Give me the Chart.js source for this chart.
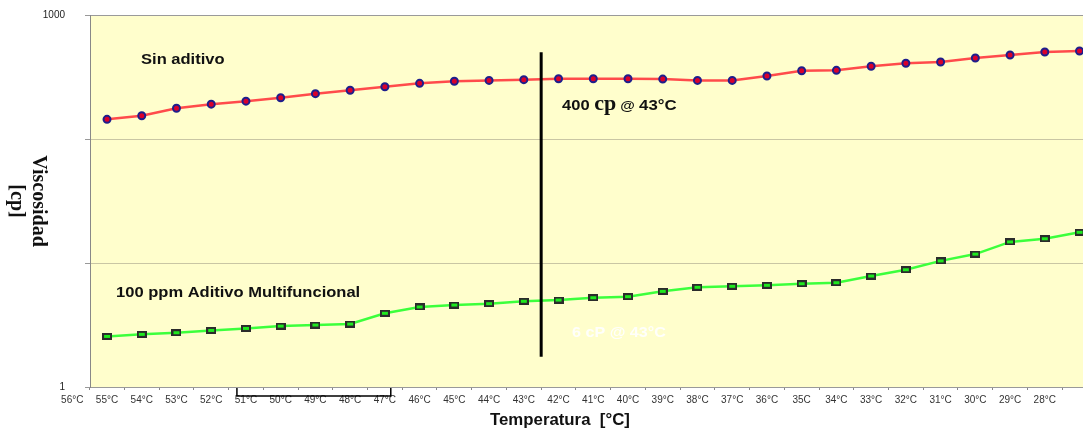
<!DOCTYPE html>
<html>
<head>
<meta charset="utf-8">
<script src="https://cdn.jsdelivr.net/npm/chart.js@4"></script>
<style>
  html, body { margin: 0; padding: 0; background: #fff; }
</style>
</head>
<body>
<canvas id="viscChart" width="1083" height="433"></canvas>
<script>
// Temperature labels as printed under the axis (the sheet shows them shifted one slot left of the points)
const temps = ['56°C','55°C','54°C','53°C','52°C','51°C','50°C','49°C','48°C','47°C',
               '46°C','45°C','44°C','43°C','42°C','41°C','40°C','39°C','38°C','37°C',
               '36°C','35C','34°C','33°C','32°C','31°C','30°C','29°C','28°C'];

// Viscosity [cp], one value per plotted point
const sinAditivo = [144, 154, 177, 191, 202, 215, 232, 247, 264, 281,
                    292, 297, 301, 306, 306, 306, 304, 297, 297, 322,
                    355, 358, 386, 408, 418, 450, 476, 503, 513];
const conAditivo = [2.56, 2.66, 2.74, 2.86, 2.97, 3.10, 3.16, 3.22, 3.93, 4.42,
                    4.58, 4.70, 4.91, 5.03, 5.25, 5.35, 5.91, 6.37, 6.49, 6.61,
                    6.81, 6.93, 7.85, 8.83, 10.4, 11.8, 14.8, 15.7, 17.7];

const yTicks = [1, 10, 100, 1000];

const FAM = 'Arial, "Liberation Sans", sans-serif';
const SERIF = '"Liberation Serif", "Times New Roman", serif';

// little green box marker used by the additive series
const boxMarker = document.createElement('canvas');
boxMarker.width = 10; boxMarker.height = 7;
(function () {
    const g = boxMarker.getContext('2d');
    g.fillStyle = '#2b2b2b';
    g.fillRect(0, 0, 10, 7);
    g.fillStyle = '#1ee81e';
    g.fillRect(2, 2, 6, 3);
})();

function wideText(ctx, txt, x, y, sx) {
    ctx.save();
    ctx.translate(x, y);
    ctx.scale(sx, 1);
    ctx.fillText(txt, 0, 0);
    ctx.restore();
}

function noPad(s) {
    s.paddingLeft = 0; s.paddingRight = 0; s.paddingTop = 0; s.paddingBottom = 0;
}

const decor = {
    id: 'decor',
    beforeDraw(chart) {
        const a = chart.chartArea, ctx = chart.ctx;
        ctx.save();
        ctx.fillStyle = '#FFFECC';
        ctx.fillRect(a.left, a.top, a.right - a.left, a.bottom - a.top);
        ctx.restore();
    },
    afterDraw(chart) {
        const ctx = chart.ctx, xs = chart.scales.x, ys = chart.scales.y, a = chart.chartArea;
        ctx.save();

        // vertical marker at 43 °C
        ctx.strokeStyle = '#000';
        ctx.lineWidth = 3;
        ctx.beginPath();
        ctx.moveTo(xs.getPixelForValue(13.5), ys.getPixelForValue(500));
        ctx.lineTo(xs.getPixelForValue(13.5), ys.getPixelForValue(1.75));
        ctx.stroke();

        // bracket under 51..47 °C
        ctx.lineWidth = 1.5;
        const b1 = xs.getPixelForValue(4.74), b2 = xs.getPixelForValue(9.17);
        ctx.beginPath();
        ctx.moveTo(b1, a.bottom + 1);
        ctx.lineTo(b1, a.bottom + 9);
        ctx.lineTo(b2, a.bottom + 9);
        ctx.lineTo(b2, a.bottom + 1);
        ctx.stroke();

        // series notes
        ctx.textBaseline = 'middle';
        ctx.textAlign = 'left';
        ctx.font = 'bold 14px ' + FAM;
        ctx.fillStyle = '#111';
        wideText(ctx, 'Sin aditivo', xs.getPixelForValue(1.98), ys.getPixelForValue(433), 1.18);
        wideText(ctx, '100 ppm Aditivo Multifuncional', xs.getPixelForValue(1.26), ys.getPixelForValue(5.73), 1.18);
        ctx.fillStyle = 'rgba(255,255,255,0.92)';
        wideText(ctx, '6 cP @ 43°C', xs.getPixelForValue(14.39), ys.getPixelForValue(2.72), 1.15);

        // "400 cp @ 43°C" with the serif unit
        ctx.textBaseline = 'alphabetic';
        ctx.fillStyle = '#111';
        let px = xs.getPixelForValue(14.1);
        const base = ys.getPixelForValue(188) + 5;
        const parts = [
            { t: '400 ', f: 'bold 14px ' + FAM, s: 1.18 },
            { t: 'cp', f: 'bold 22px ' + SERIF, s: 1.0 },
            { t: ' @ ', f: 'bold 13px ' + FAM, s: 1.15 },
            { t: '43°C', f: 'bold 14px ' + FAM, s: 1.2 }
        ];
        parts.forEach(p => {
            ctx.font = p.f;
            wideText(ctx, p.t, px, base, p.s);
            px += ctx.measureText(p.t).width * p.s;
        });

        // axis titles
        ctx.textAlign = 'center';
        ctx.textBaseline = 'middle';
        ctx.font = 'bold 16px ' + FAM;
        ctx.fillStyle = '#111';
        ctx.save();
        ctx.translate(xs.getPixelForValue(14.04), 421);
        ctx.scale(1.05, 1);
        ctx.fillText('Temperatura  [°C]', 0, 0);
        ctx.restore();

        ctx.save();
        ctx.translate(27, 201);
        ctx.rotate(Math.PI / 2);
        ctx.font = 'bold 20px ' + SERIF;
        ctx.fillText('Viscosidad', 0, -11);
        ctx.fillText('[cp]', 0, 11);
        ctx.restore();

        ctx.restore();
    }
};

new Chart(document.getElementById('viscChart'), {
    type: 'line',
    data: {
        datasets: [{
            label: 'Sin aditivo',
            data: sinAditivo.map((v, i) => ({ x: i + 1, y: v })),
            borderColor: '#ff4b4b',
            borderWidth: 2.5,
            pointRadius: 3.5,
            pointBackgroundColor: '#d8002c',
            pointBorderColor: '#1e1e8c',
            pointBorderWidth: 2,
            tension: 0,
            clip: false
        }, {
            label: '100 ppm Aditivo Multifuncional',
            data: conAditivo.map((v, i) => ({ x: i + 1, y: v })),
            borderColor: '#3cff3c',
            borderWidth: 2.5,
            pointStyle: boxMarker,
            pointRadius: 5,
            tension: 0,
            clip: false
        }]
    },
    options: {
        responsive: false,
        animation: false,
        layout: { autoPadding: false, padding: { top: 15, right: 0, left: 0, bottom: 0 } },
        plugins: {
            legend: { display: false },
            tooltip: { enabled: false }
        },
        scales: {
            x: {
                type: 'linear',
                min: 0.51,
                max: 29.1,
                afterBuildTicks: s => {
                    const t = [];
                    temps.forEach((_, k) => { t.push({ value: k }); t.push({ value: k + 0.5 }); });
                    s.ticks = t;
                },
                afterFit: s => { s.height = 46; noPad(s); },
                ticks: {
                    autoSkip: false,
                    maxRotation: 0,
                    padding: 4,
                    color: '#333',
                    font: { size: 10, family: FAM },
                    callback: v => Number.isInteger(v) ? temps[v] : ''
                },
                grid: {
                    drawOnChartArea: false,
                    tickLength: 3,
                    tickColor: c => (c.tick && Number.isInteger(c.tick.value)) ? 'rgba(0,0,0,0)' : '#888'
                },
                border: { color: '#999' }
            },
            y: {
                type: 'logarithmic',
                min: 1,
                max: 1000,
                afterBuildTicks: s => { s.ticks = yTicks.map(v => ({ value: v })); },
                afterFit: s => { s.width = 90; noPad(s); },
                ticks: {
                    color: '#222',
                    padding: 20,
                    font: { size: 10, family: FAM },
                    callback: v => (v === 1 || v === 1000) ? String(v) : ''
                },
                grid: {
                    color: c => (c.tick && c.tick.value === 1000) ? '#9a9a9a' : '#c9c6a4',
                    tickColor: '#999',
                    tickLength: 5
                },
                border: { color: '#888' }
            }
        }
    },
    plugins: [decor]
});
</script>
</body>
</html>
